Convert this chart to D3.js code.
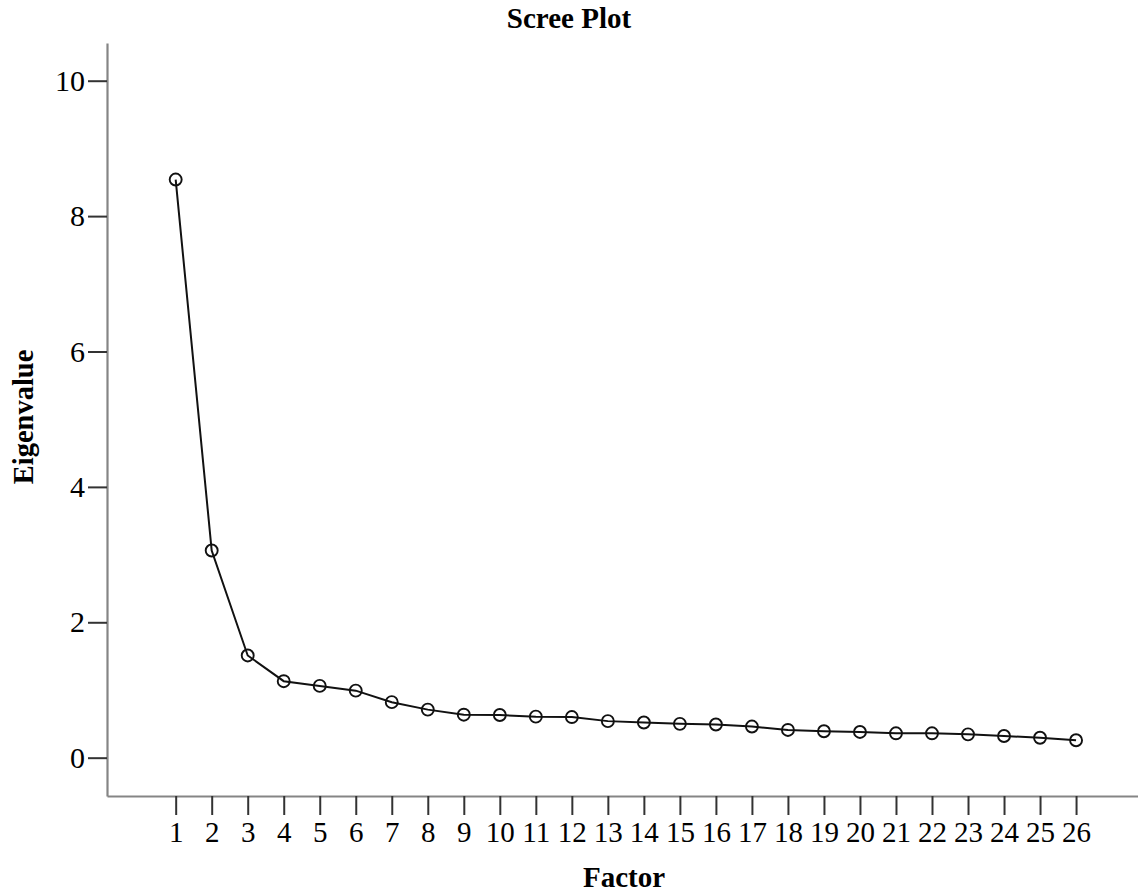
<!DOCTYPE html>
<html>
<head>
<meta charset="utf-8">
<script src="https://cdn.jsdelivr.net/npm/d3@7"></script>
<style>
  body { margin: 0; background: #fff; }
  svg { display: block; }
  text { font-family: "Liberation Serif", "Times New Roman", serif; fill: #000; }
</style>
</head>
<body>
<svg width="1138" height="894"></svg>
<script>
// scree plot data (eigenvalues)
var factors = d3.range(1, 27);
var eigenvalues = [8.54, 3.06, 1.51, 1.13, 1.06, 0.99, 0.82, 0.71, 0.635, 0.63,
                   0.606, 0.60, 0.54, 0.52, 0.50, 0.49, 0.46, 0.41, 0.39, 0.38,
                   0.36, 0.36, 0.345, 0.32, 0.295, 0.257];
var yTicks = [0, 2, 4, 6, 8, 10];

var svg = d3.select("svg");

// axis frame spans a bit past the data, like the SPSS output
var x = d3.scaleLinear().domain([-0.907, 27.72]).range([107, 1138]);
var y = d3.scaleLinear().domain([-0.566, 10.557]).range([796, 43]);

var yAxis = svg.append("g")
    .attr("transform", "translate(107,0)")
    .call(d3.axisLeft(y).tickValues(yTicks).tickSize(19).tickSizeOuter(0).tickPadding(3));

var xAxis = svg.append("g")
    .attr("transform", "translate(0,796)")
    .call(d3.axisBottom(x).tickValues(factors).tickSize(19).tickSizeOuter(0).tickPadding(6));

[yAxis, xAxis].forEach(function(g) {
  g.select(".domain").attr("stroke", "#858585").attr("stroke-width", 2.2);
  g.selectAll(".tick line").attr("stroke", "#333").attr("stroke-width", 2);
  g.selectAll(".tick text")
    .attr("font-family", "Liberation Serif")
    .attr("font-size", 30)
    .attr("fill", "#000");
});
xAxis.selectAll(".tick text").attr("font-size", 29);

var pts = factors.map(function(f, i) { return {f: f, v: eigenvalues[i]}; });

var line = d3.line()
    .x(function(d) { return x(d.f); })
    .y(function(d) { return y(d.v); });

svg.append("path")
    .datum(pts)
    .attr("d", line)
    .attr("fill", "none")
    .attr("stroke", "#111")
    .attr("stroke-width", 2);

svg.selectAll("circle.pt")
    .data(pts)
    .enter()
    .append("circle")
    .attr("class", "pt")
    .attr("cx", function(d) { return x(d.f); })
    .attr("cy", function(d) { return y(d.v); })
    .attr("r", 6)
    .attr("fill", "none")
    .attr("stroke", "#111")
    .attr("stroke-width", 1.9);

// titles
svg.append("text")
    .attr("x", 569)
    .attr("y", 28)
    .attr("text-anchor", "middle")
    .attr("font-weight", "bold")
    .attr("font-size", 29)
    .text("Scree Plot");

svg.append("text")
    .attr("transform", "translate(33,417) rotate(-90)")
    .attr("text-anchor", "middle")
    .attr("font-weight", "bold")
    .attr("font-size", 28.5)
    .text("Eigenvalue");

svg.append("text")
    .attr("x", 624)
    .attr("y", 887)
    .attr("text-anchor", "middle")
    .attr("font-weight", "bold")
    .attr("font-size", 29)
    .text("Factor");
</script>
</body>
</html>
